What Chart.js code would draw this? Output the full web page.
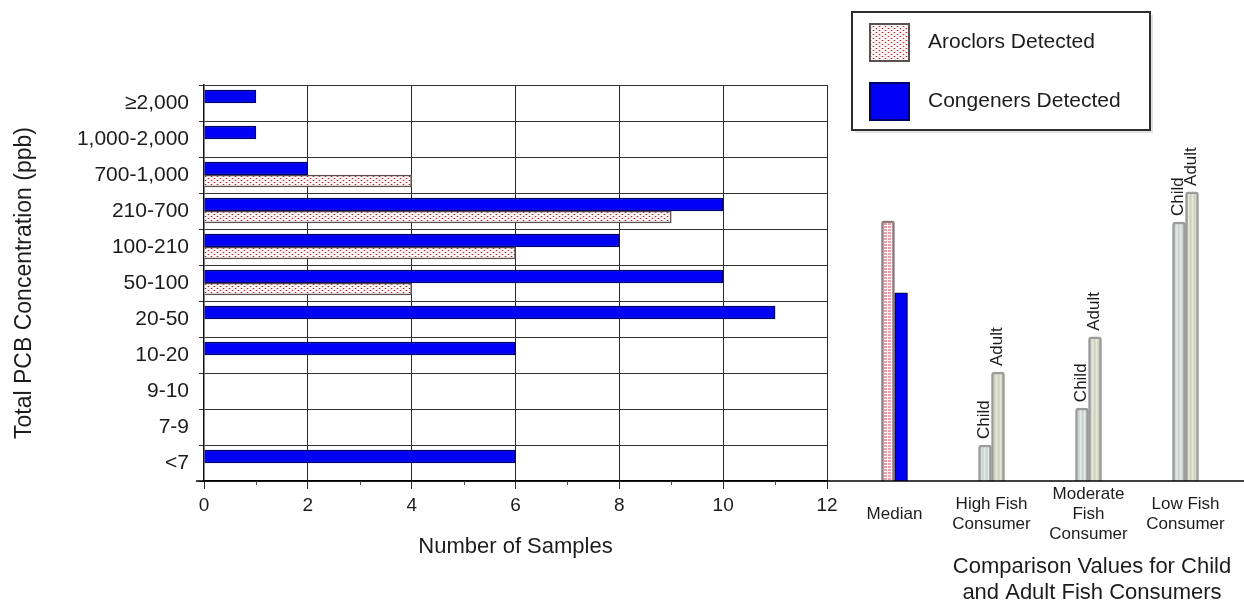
<!DOCTYPE html>
<html>
<head>
<meta charset="utf-8">
<title>Total PCB Concentration</title>
<script src="https://cdn.jsdelivr.net/npm/chart.js@4.4.1/dist/chart.umd.min.js"></script>
<style>
  html, body { margin: 0; padding: 0; background: #fff; }
  #wrap { position: relative; width: 1244px; height: 603px; overflow: hidden; background: #fff; }
  #left { position: absolute; left: 0; top: 0; }
  #right { position: absolute; left: 827px; top: 0; }
</style>
</head>
<body>
<div id="wrap">
  <canvas id="left" width="850" height="603"></canvas>
  <canvas id="right" width="417" height="603"></canvas>
</div>
<script>
// Sample counts per concentration range (ppb)
const concentrationRanges = ['≥2,000', '1,000-2,000', '700-1,000', '210-700', '100-210', '50-100', '20-50', '10-20', '9-10', '7-9', '<7'];
const congenerCounts = [1, 1, 2, 10, 8, 10, 11, 6, 0, 0, 6];
const aroclorCounts  = [0, 0, 4, 9, 6, 4, 0, 0, 0, 0, 0];
const sampleTicks = [0, 2, 4, 6, 8, 10, 12];

// Median values and fish-consumer comparison values (relative heights, 0-100)
const comparisonGroups = ['Median', ['High Fish', 'Consumer'], ['Moderate', 'Fish', 'Consumer'], ['Low Fish', 'Consumer']];
const firstBarValues  = [65.7, 9.1, 18.4, 65.4];   // Aroclor median, then child values
const secondBarValues = [47.5, 27.5, 36.4, 73.0];  // Congener median, then adult values
const firstBarTags  = ['', 'Child', 'Child', 'Child'];
const secondBarTags = ['', 'Adult', 'Adult', 'Adult'];

const FONT = "'Liberation Sans', Arial, Helvetica, sans-serif";
const TEXT = '#1c1c1c';

// ---- fill patterns ----
function makePattern(w, h, paint) {
  const c = document.createElement('canvas');
  c.width = w; c.height = h;
  const g = c.getContext('2d');
  paint(g);
  return g.createPattern(c, 'repeat');
}
const dotPattern = makePattern(6, 4, g => {
  g.fillStyle = '#fdf6f6'; g.fillRect(0, 0, 6, 4);
  g.fillStyle = '#e6baba'; g.fillRect(0, 0, 3, 1); g.fillRect(3, 2, 3, 1);
  g.fillStyle = '#a52a2a'; g.fillRect(1, 0, 1, 1); g.fillRect(4, 2, 1, 1);
});
const gridPattern = makePattern(4, 3, g => {
  g.fillStyle = '#e2a3ad'; g.fillRect(0, 0, 4, 3);
  g.fillStyle = '#fff4f4'; g.fillRect(0, 0, 4, 1); g.fillRect(0, 0, 1, 3);
});
const childPattern = makePattern(4, 1, g => {
  const cols = ['#d2dad7', '#e3e9e6', '#d8dfdc', '#ccd4d1'];
  cols.forEach((c, i) => { g.fillStyle = c; g.fillRect(i, 0, 1, 1); });
});
const adultPattern = makePattern(4, 1, g => {
  const cols = ['#d8d9c8', '#e6e7d8', '#dcddcc', '#d0d1c0'];
  cols.forEach((c, i) => { g.fillStyle = c; g.fillRect(i, 0, 1, 1); });
});

// ---- left chart: samples per concentration range ----
const minorTicks = {
  id: 'minorTicks',
  afterDraw(chart) {
    const s = chart.scales.x, ctx = chart.ctx;
    ctx.save();
    ctx.strokeStyle = '#444'; ctx.lineWidth = 1;
    for (let v = 1; v < 12; v += 2) {
      const x = Math.round(s.getPixelForValue(v)) + 0.5;
      ctx.beginPath(); ctx.moveTo(x, s.top); ctx.lineTo(x, s.top + 4); ctx.stroke();
    }
    // axis line runs a little past the left edge
    ctx.strokeStyle = '#000'; ctx.lineWidth = 1.5;
    ctx.beginPath(); ctx.moveTo(chart.chartArea.left - 8, s.top); ctx.lineTo(chart.chartArea.left, s.top); ctx.stroke();
    ctx.restore();
  }
};

new Chart(document.getElementById('left'), {
  type: 'bar',
  data: {
    labels: concentrationRanges,
    datasets: [
      { label: 'Congeners Detected', data: congenerCounts, backgroundColor: '#0000f5', borderColor: '#00006a', borderWidth: 1.5, barThickness: 13 },
      { label: 'Aroclors Detected', data: aroclorCounts, backgroundColor: dotPattern, borderColor: '#5a5050', borderWidth: 1.5, barThickness: 12 }
    ]
  },
  options: {
    indexAxis: 'y',
    responsive: false,
    animation: false,
    layout: { padding: { top: 85, right: 23, left: 0, bottom: 0 } },
    plugins: { legend: { display: false }, tooltip: { enabled: false } },
    scales: {
      x: {
        min: 0, max: 12,
        afterBuildTicks: s => { s.ticks = sampleTicks.map(v => ({ value: v })); },
        afterFit: s => { s.height = 122; },
        grid: {
          color: c => (c.tick && c.tick.value === 0) ? 'rgba(0,0,0,0)' : '#2a2a2a',
          tickColor: '#2a2a2a', tickLength: 8, lineWidth: 1
        },
        border: { color: '#000', width: 1.5 },
        ticks: { font: { family: FONT, size: 19 }, color: TEXT, padding: 5, maxRotation: 0 },
        title: { display: true, text: 'Number of Samples', font: { family: FONT, size: 22 }, color: TEXT, padding: { top: 0, bottom: 43 } }
      },
      y: {
        afterFit: s => { s.width = 204; },
        grid: { offset: true, color: '#333', tickColor: '#333', tickLength: 5, lineWidth: 1 },
        border: { color: '#111', width: 1.5 },
        ticks: { font: { family: FONT, size: 21 }, color: TEXT, padding: 10, autoSkip: false },
        title: { display: true, text: 'Total PCB Concentration (ppb)', font: { family: FONT, size: 23 }, color: TEXT, padding: { top: 11, bottom: 0 } }
      }
    }
  },
  plugins: [minorTicks]
});

// ---- right chart: medians and comparison values ----
const barTags = {
  id: 'barTags',
  afterDatasetsDraw(chart) {
    const ctx = chart.ctx;
    const tagSets = [firstBarTags, secondBarTags];
    ctx.save();
    ctx.font = `17px ${FONT}`;
    ctx.fillStyle = TEXT;
    ctx.textAlign = 'left';
    ctx.textBaseline = 'middle';
    tagSets.forEach((tags, di) => {
      chart.getDatasetMeta(di).data.forEach((bar, i) => {
        if (!tags[i]) return;
        ctx.save();
        ctx.translate(bar.x - 1, bar.y - 6);
        ctx.rotate(-Math.PI / 2);
        ctx.fillText(tags[i], 0, 0);
        ctx.restore();
      });
    });
    ctx.restore();
  }
};

const baseline = {
  id: 'baseline',
  afterDraw(chart) {
    const ctx = chart.ctx, y = chart.chartArea.bottom;
    ctx.save();
    ctx.strokeStyle = '#000'; ctx.lineWidth = 1.5;
    ctx.beginPath(); ctx.moveTo(0, y); ctx.lineTo(chart.width, y); ctx.stroke();
    ctx.restore();
  }
};

const groupTitle = {
  id: 'groupTitle',
  afterDraw(chart) {
    const ctx = chart.ctx;
    ctx.save();
    ctx.font = `22px ${FONT}`;
    ctx.fillStyle = TEXT;
    ctx.textAlign = 'center';
    ctx.textBaseline = 'middle';
    ctx.fillText('Comparison Values for Child', 265, 567);
    ctx.fillText('and Adult Fish Consumers', 265, 593);
    ctx.restore();
  }
};

const legendBox = {
  id: 'legendBox',
  afterDraw(chart) {
    const ctx = chart.ctx;
    ctx.save();
    ctx.fillStyle = 'rgba(0,0,0,0.12)';
    ctx.fillRect(28, 15, 298, 118);
    ctx.fillStyle = '#fff';
    ctx.fillRect(25, 12, 298, 118);
    ctx.strokeStyle = '#2e2e2e'; ctx.lineWidth = 2;
    ctx.strokeRect(25, 12, 298, 118);
    // swatches
    ctx.fillStyle = dotPattern; ctx.fillRect(43, 24, 39, 37);
    ctx.strokeStyle = '#5a5050'; ctx.lineWidth = 2; ctx.strokeRect(43, 24, 39, 37);
    ctx.fillStyle = '#0000f5'; ctx.fillRect(43, 83, 39, 37);
    ctx.strokeStyle = '#00006a'; ctx.strokeRect(43, 83, 39, 37);
    ctx.font = `21px ${FONT}`;
    ctx.fillStyle = TEXT;
    ctx.textAlign = 'left';
    ctx.textBaseline = 'middle';
    ctx.fillText('Aroclors Detected', 101, 42);
    ctx.fillText('Congeners Detected', 101, 101);
    ctx.restore();
  }
};

new Chart(document.getElementById('right'), {
  type: 'bar',
  data: {
    labels: comparisonGroups,
    datasets: [
      {
        data: firstBarValues,
        backgroundColor: [gridPattern, childPattern, childPattern, childPattern],
        borderColor: ['#8d7d80', '#9a9c9a', '#9a9c9a', '#9a9c9a'],
        borderWidth: 2.5, borderRadius: 3, barThickness: 13
      },
      {
        data: secondBarValues,
        backgroundColor: ['#0000f5', adultPattern, adultPattern, adultPattern],
        borderColor: ['#00006a', '#9a9c9a', '#9a9c9a', '#9a9c9a'],
        borderWidth: [1.5, 2.5, 2.5, 2.5], borderRadius: [1, 3, 3, 3], barThickness: 13
      }
    ]
  },
  options: {
    responsive: false,
    animation: false,
    layout: { padding: { top: 85, left: 19, right: 10, bottom: 0 } },
    plugins: { legend: { display: false }, tooltip: { enabled: false } },
    scales: {
      x: {
        afterFit: s => { s.height = 122; },
        grid: { display: false, drawTicks: false },
        border: { display: false },
        ticks: { font: { family: FONT, size: 17 }, color: TEXT, padding: 13, crossAlign: 'center', maxRotation: 0, autoSkip: false }
      },
      y: { display: false, min: 0, max: 100 }
    }
  },
  plugins: [barTags, baseline, groupTitle, legendBox]
});
</script>
</body>
</html>
